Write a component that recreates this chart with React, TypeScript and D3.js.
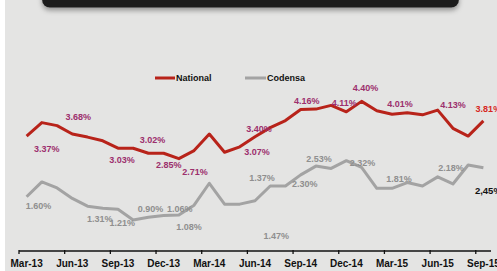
import React from 'react';
import * as d3 from 'd3';

// monthly series, Mar-13 .. Sep-15 (%)
const months = [
  'Mar-13', 'Apr-13', 'May-13', 'Jun-13', 'Jul-13', 'Aug-13', 'Sep-13', 'Oct-13', 'Nov-13', 'Dec-13',
  'Jan-14', 'Feb-14', 'Mar-14', 'Apr-14', 'May-14', 'Jun-14', 'Jul-14', 'Aug-14', 'Sep-14', 'Oct-14',
  'Nov-14', 'Dec-14', 'Jan-15', 'Feb-15', 'Mar-15', 'Apr-15', 'May-15', 'Jun-15', 'Jul-15', 'Aug-15', 'Sep-15',
];
const national = [
  3.41, 3.81, 3.72, 3.47, 3.38, 3.27, 3.05, 3.05, 2.90, 2.90,
  2.74, 2.98, 3.47, 2.93, 3.09, 3.39, 3.66, 3.87, 4.20, 4.21,
  4.32, 4.13, 4.44, 4.16, 4.06, 4.10, 4.04, 4.18, 3.64, 3.41, 3.86,
];
const codensa = [
  1.61, 2.05, 1.87, 1.56, 1.33, 1.27, 1.24, 0.92, 1.00, 1.05,
  1.07, 1.36, 2.01, 1.39, 1.39, 1.49, 1.93, 1.93, 2.26, 2.52,
  2.45, 2.68, 2.48, 1.86, 1.86, 2.03, 1.93, 2.20, 1.99, 2.55, 2.47,
];
const tickLabels = ['Mar-13', 'Jun-13', 'Sep-13', 'Dec-13', 'Mar-14', 'Jun-14', 'Sep-14', 'Dec-14', 'Mar-15', 'Jun-15', 'Sep-15'];

// data labels: point index + offset from the point
const nationalLabels = [
  { text: '3.37%', i: 1, dx: 5, dy: 26 },
  { text: '3.68%', i: 3, dx: 6, dy: -17 },
  { text: '3.03%', i: 6, dx: 4, dy: 12 },
  { text: '3.02%', i: 8, dx: 4, dy: -13 },
  { text: '2.85%', i: 9, dx: 5, dy: 12 },
  { text: '2.71%', i: 11, dx: 1, dy: 21 },
  { text: '3.40%', i: 15, dx: 4, dy: -8 },
  { text: '3.07%', i: 15, dx: 2, dy: 15 },
  { text: '4.16%', i: 18, dx: 6, dy: -9 },
  { text: '4.11%', i: 21, dx: -2, dy: -9 },
  { text: '4.40%', i: 22, dx: 4, dy: -14 },
  { text: '4.01%', i: 24, dx: 8, dy: -10 },
  { text: '4.13%', i: 28, dx: 0, dy: -23 },
];
const codensaLabels = [
  { text: '1.60%', i: 0, dx: 12, dy: 9 },
  { text: '1.31%', i: 5, dx: -3, dy: 11 },
  { text: '1.21%', i: 7, dx: -11, dy: 3 },
  { text: '0.90%', i: 8, dx: 2, dy: -8 },
  { text: '1.06%', i: 10, dx: 1, dy: -6 },
  { text: '1.08%', i: 11, dx: -5, dy: 22 },
  { text: '1.37%', i: 15, dx: 7, dy: -23 },
  { text: '1.47%', i: 16, dx: 6, dy: 50 },
  { text: '2.30%', i: 18, dx: 4, dy: 9 },
  { text: '2.53%', i: 19, dx: 3, dy: -7 },
  { text: '2.32%', i: 22, dx: 1, dy: -5 },
  { text: '1.81%', i: 24, dx: 7, dy: -9 },
  { text: '2.18%', i: 28, dx: -2, dy: -16 },
];
const lastNational = { text: '3.81%', dx: 5, dy: -12 };
const lastCodensa = { text: '2,45%', dx: 5, dy: 23 };

const W = 497;
const H = 271;
const font = '"Liberation Sans", Arial, sans-serif';

export default function App() {
  const x = d3.scaleBand<number>().domain(d3.range(months.length)).range([19, 491]);
  const cx = (i: number) => (x(i) as number) + x.bandwidth() / 2;
  const y = d3.scaleLinear().domain([0, 6]).range([251, 48.8]);

  const line = d3.line<number>().x((_, i) => cx(i)).y((d) => y(d));

  const tickIdx = d3.range(0, months.length, 3);
  const n = months.length - 1;

  return (
    <svg width={W} height={H} style={{ position: 'absolute', left: 0, top: 0 }} fontFamily={font}>
      <defs>
        <filter id="shadow" x="-10%" y="-50%" width="120%" height="300%">
          <feDropShadow dx="0" dy="3" stdDeviation="2.5" floodColor="#000" floodOpacity="0.35" />
        </filter>
      </defs>
      <rect x={0} y={0} width={W} height={H} fill="#e4e4e3" />
      <rect x={0} y={0} width={5} height={H} fill="#ffffff" />
      <rect x={42} y={-20} width={417} height={27.5} rx={8} fill="#1e1e1e" filter="url(#shadow)" />

      {/* legend */}
      <line x1={155} x2={175} y1={78} y2={78} stroke="#b8231a" strokeWidth={3} />
      <text x={176} y={81} fontSize={9} fontWeight="bold" fill="#111">National</text>
      <line x1={245} x2={266} y1={78} y2={78} stroke="#a3a3a3" strokeWidth={3} />
      <text x={267} y={81} fontSize={9} fontWeight="bold" fill="#111">Codensa</text>

      {/* axis */}
      <line x1={19} x2={491} y1={251} y2={251} stroke="#111" strokeWidth={1.3} />
      {tickIdx.map((i) => (
        <line key={'t' + i} x1={x(i) as number} x2={x(i) as number} y1={250} y2={254} stroke="#111" strokeWidth={1.3} />
      ))}
      {tickIdx.map((i, k) => (
        <text key={'l' + i} x={cx(i)} y={267} textAnchor="middle" fontSize={10} fontWeight="bold" fill="#111">
          {tickLabels[k]}
        </text>
      ))}

      {/* series */}
      <path d={line(codensa) as string} fill="none" stroke="#a3a3a3" strokeWidth={3} strokeLinejoin="round" />
      <path d={line(national) as string} fill="none" stroke="#b8231a" strokeWidth={3} strokeLinejoin="round" />

      {nationalLabels.map((l, k) => (
        <text key={'nl' + k} x={cx(l.i) + l.dx} y={y(national[l.i]) + l.dy} dy="0.35em" textAnchor="middle"
          fontSize={9} fontWeight="bold" fill="#9c2f6d">{l.text}</text>
      ))}
      {codensaLabels.map((l, k) => (
        <text key={'cl' + k} x={cx(l.i) + l.dx} y={y(codensa[l.i]) + l.dy} dy="0.35em" textAnchor="middle"
          fontSize={9} fontWeight="bold" fill="#8f8f8f">{l.text}</text>
      ))}
      <text x={cx(n) + lastNational.dx} y={y(national[n]) + lastNational.dy} dy="0.35em" textAnchor="middle"
        fontSize={9} fontWeight="bold" fill="#d7261e">{lastNational.text}</text>
      <text x={cx(n) + lastCodensa.dx} y={y(codensa[n]) + lastCodensa.dy} dy="0.35em" textAnchor="middle"
        fontSize={9.5} fontWeight="bold" fill="#111">{lastCodensa.text}</text>
    </svg>
  );
}
